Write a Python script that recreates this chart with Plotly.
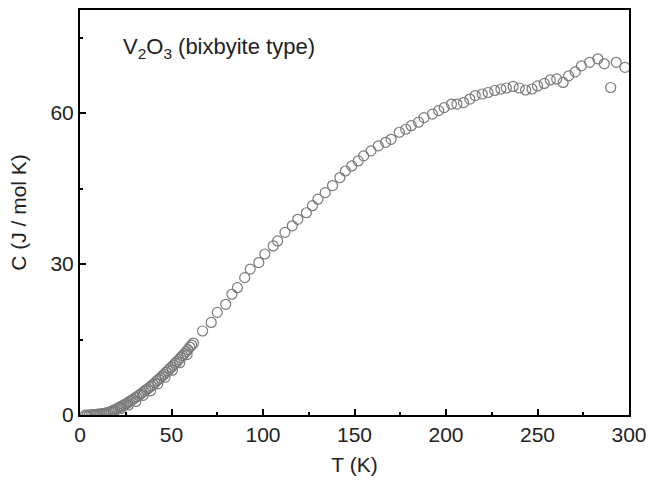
import plotly.graph_objects as go

# Temperature (K) and heat capacity C (J / mol K)
T_low = [3, 4, 5, 6, 7, 8, 9, 10, 11, 12, 13, 14, 15, 16, 17, 18, 19, 20,
         21, 22, 23, 24, 25, 26, 27, 28, 29, 30, 31, 32, 33, 34, 35, 36, 37,
         38, 39, 40, 41, 42, 43, 44, 45, 46, 47, 48, 49, 50, 51, 52, 53, 54,
         55, 56, 57, 58, 59, 60, 61, 62]
C_low = [0.0, 0.0, 0.0, 0.05, 0.1, 0.1, 0.15, 0.2, 0.2, 0.3, 0.3, 0.4, 0.5,
         0.6, 0.7, 0.9, 1.0, 1.2, 1.4, 1.6, 1.8, 2.0, 2.2, 2.4, 2.7, 2.9, 3.1,
         3.4, 3.6, 3.9, 4.1, 4.4, 4.7, 5.0, 5.2, 5.5, 5.8, 6.1, 6.4, 6.8, 7.1,
         7.4, 7.8, 8.1, 8.5, 8.8, 9.2, 9.5, 9.9, 10.3, 10.6, 11.0, 11.4, 11.8,
         12.2, 12.6, 13.0, 13.5, 13.9, 14.3]

T_low2 = [14.5, 18.5, 22.5, 26.5, 30.5, 34.5, 38.5, 42.5, 46.5, 50.5, 54.5, 58.5]
C_low2 = [0.1, 0.6, 1.3, 2.0, 2.7, 3.9, 4.8, 6.2, 7.5, 8.9, 10.4, 12.0]

T_high = [67, 71.7, 75, 79.6, 83, 86, 90, 93, 97.7, 101, 105.6, 108, 112, 116,
          119, 123.7, 127, 130, 134, 138, 142, 145, 148.5, 152, 155, 159, 163,
          167, 170, 174.5, 178, 181, 185, 188, 192.6, 196, 199, 203, 206, 209.6,
          213, 216, 219.8, 223, 226.6, 230, 233, 236.7, 240, 243.5, 247, 250,
          253.7, 257, 260.5, 264, 267, 270.6, 274, 278.5, 283, 286.5, 290, 293,
          297.8]
C_high = [16.7, 18.4, 20.4, 22.0, 24.0, 25.3, 27.3, 29.0, 30.3, 32.0, 33.6,
          34.6, 36.3, 37.6, 38.9, 40.2, 41.6, 42.9, 44.2, 45.6, 47.2, 48.5,
          49.5, 50.5, 51.5, 52.5, 53.5, 54.2, 54.8, 56.2, 56.8, 57.5, 58.2,
          59.1, 59.8, 60.5, 61.1, 61.8, 61.8, 62.1, 62.8, 63.5, 63.8, 64.1,
          64.5, 64.8, 65.0, 65.3, 65.0, 64.6, 64.8, 65.4, 65.9, 66.6, 66.8,
          66.1, 67.4, 68.2, 69.4, 70.1, 70.8, 69.8, 65.1, 70.1, 69.1]

x_ticks = [0, 50, 100, 150, 200, 250, 300]
y_ticks = [0, 30, 60]

T = T_low + T_low2 + T_high
C = C_low + C_low2 + C_high

font = "Liberation Sans, Arial, sans-serif"
fsize = 21

fig = go.Figure()
fig.add_trace(go.Scatter(
    x=T, y=C, mode="markers",
    marker=dict(symbol="circle-open", size=10, color="#7a7a7a",
                line=dict(width=1.2, color="#7a7a7a")),
    showlegend=False,
))

axis_common = dict(
    showline=True, linecolor="black", linewidth=2, mirror=True,
    ticks="inside", ticklen=6, tickwidth=1.5, tickcolor="black",
    showgrid=False, zeroline=False, automargin=False,
    tickfont=dict(family=font, size=fsize, color="#222"),
)

fig.update_xaxes(
    range=[0, 300], tickvals=x_ticks,
    title=dict(text="T (K)", font=dict(family=font, size=fsize, color="#222"),
               standoff=12),
    minor=dict(ticks="inside", dtick=25, tick0=0, ticklen=3, tickwidth=1.5,
               tickcolor="black"),
    **axis_common,
)
fig.update_yaxes(
    range=[0, 80.5], tickvals=y_ticks,
    title=dict(text="C (J / mol K)", font=dict(family=font, size=fsize, color="#222"),
               standoff=18),
    minor=dict(ticks="inside", dtick=15, tick0=0, ticklen=3, tickwidth=1.5,
               tickcolor="black"),
    **axis_common,
)

fig.add_annotation(
    x=0.075, y=0.906, xref="paper", yref="paper", xanchor="left", yanchor="middle",
    text="V<sub>2</sub>O<sub>3</sub> (bixbyite type)", showarrow=False,
    font=dict(family=font, size=22, color="#222"),
)

fig.update_layout(
    width=650, height=481,
    margin=dict(l=80, r=21, t=10, b=66),
    paper_bgcolor="white", plot_bgcolor="white",
)

fig.write_html(
    "out.html",
    config={"displayModeBar": False},
    post_script="document.body.style.margin='0';document.body.style.overflow='hidden';",
)
